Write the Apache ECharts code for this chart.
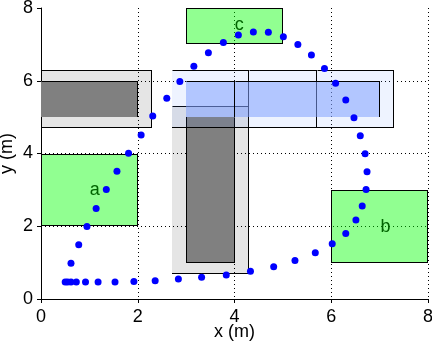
<!DOCTYPE html>
<html>
<head>
<meta charset="utf-8">
<script src="https://cdn.jsdelivr.net/npm/echarts@6.0.0/dist/echarts.min.js"></script>
<style>
  html, body { margin: 0; padding: 0; background: #fff; }
  #chart { width: 432px; height: 350px; }
</style>
</head>
<body>
<div id="chart"></div>
<script>
// axis ticks
const xTicks = [0, 2, 4, 6, 8]
const yTicks = [0, 2, 4, 6, 8]

// path points (m)
const pathX = [0.50, 0.55, 0.62, 0.73, 0.92, 1.18, 1.53, 1.92, 2.36, 2.84, 3.32, 3.83, 4.33, 4.81, 5.25, 5.67,
  6.02, 6.30, 6.51, 6.64, 6.72, 6.74, 6.70, 6.60, 6.47, 6.30, 6.09, 5.86, 5.59, 5.31, 5.01, 4.70, 4.39, 4.08,
  3.77, 3.46, 3.16, 2.87, 2.60, 2.31, 2.07, 1.81, 1.57, 1.35, 1.14, 0.95, 0.78, 0.62]
const pathY = [0.47, 0.47, 0.47, 0.47, 0.47, 0.47, 0.47, 0.48, 0.50, 0.55, 0.60, 0.66, 0.76, 0.89, 1.06, 1.27,
  1.52, 1.80, 2.17, 2.56, 3.01, 3.50, 3.99, 4.49, 4.98, 5.47, 5.93, 6.34, 6.71, 7.00, 7.21, 7.33, 7.34, 7.26,
  7.05, 6.77, 6.40, 5.98, 5.52, 5.03, 4.51, 4.01, 3.51, 3.01, 2.49, 1.99, 1.49, 0.98]

// rectangles as [x0, y0, x1, y1] in metres, and which sides carry an outline
const bufferRects = [[-0.3, 4.7, 2.3, 6.3], [2.7, 0.7, 4.3, 5.3]]
const bufferSides = ['trb', 'trb']
const obstacleRects = [[0, 5, 2, 6], [3, 1, 4, 5]]
const obstacleSides = ['tr', 'lbr']
const activeBufferRects = [[2.7, 4.7, 4.3, 6.3], [4.3, 4.7, 5.7, 6.3], [5.7, 4.7, 7.3, 6.3]]
const activeBufferSides = ['trb', 'trb', 'trb']
const activeRects = [[3, 5, 4, 6], [4, 5, 7, 6]]
const activeSides = ['tr', 'tr']
const goalRects = [[0, 2, 2, 4], [6, 1, 8, 3], [3, 7, 5, 8]]
const goalSides = ['trbl', 'trbl', 'trbl']

// goal labels
const goalNames = ['a', 'b', 'c']
const goalLabelX = [1.11, 7.12, 4.10]
const goalLabelY = [3.00, 1.98, 7.54]

const FONT = "'Liberation Sans', Arial, Helvetica, sans-serif"

function rectLayer(rects, sides, fill, z) {
  return {
    type: 'custom',
    z: z,
    silent: true,
    data: rects,
    encode: { x: [0, 2], y: [1, 3] },
    renderItem: function (params, api) {
      const cs = params.coordSys
      const a = api.coord([api.value(0), api.value(3)])
      const b = api.coord([api.value(2), api.value(1)])
      const left = Math.round(Math.max(a[0], cs.x))
      const right = Math.round(Math.min(b[0], cs.x + cs.width))
      const top = Math.round(Math.max(a[1], cs.y))
      const bottom = Math.round(Math.min(b[1], cs.y + cs.height))
      const children = [{
        type: 'rect',
        shape: { x: left, y: top, width: right - left, height: bottom - top },
        style: { fill: fill }
      }]
      const s = sides[params.dataIndex]
      const L = left + 0.5, R = right - 0.5, T = top + 0.5, B = bottom - 0.5
      const segs = []
      if (s.indexOf('t') >= 0) segs.push([L, T, R + 0.5, T])
      if (s.indexOf('r') >= 0) segs.push([R, T, R, B + 0.5])
      if (s.indexOf('b') >= 0) segs.push([L - 0.5, B, R, B])
      if (s.indexOf('l') >= 0 && a[0] >= cs.x) segs.push([L, T - 0.5, L, B])
      segs.forEach(function (g) {
        children.push({
          type: 'line',
          shape: { x1: g[0], y1: g[1], x2: g[2], y2: g[3] },
          style: { stroke: '#000', lineWidth: 1 }
        })
      })
      return { type: 'group', children: children }
    }
  }
}

const chart = echarts.init(document.getElementById('chart'), null, { renderer: 'canvas' })

chart.setOption({
  animation: false,
  backgroundColor: '#fff',
  grid: { left: 41, right: 4, top: 8, bottom: 51, containLabel: false, outerBoundsMode: 'none' },
  xAxis: {
    type: 'value',
    min: xTicks[0],
    max: xTicks[xTicks.length - 1],
    interval: 2,
    name: 'x (m)',
    nameLocation: 'middle',
    nameGap: 24,
    nameMoveOverlap: false,
    nameTextStyle: { color: '#000', fontSize: 18, fontFamily: FONT },
    axisLine: { show: true, onZero: false, lineStyle: { color: '#000', width: 1 } },
    axisTick: { show: true, inside: false, length: 4, lineStyle: { color: '#000' } },
    axisLabel: { color: '#000', fontSize: 18, fontFamily: FONT, margin: 9 },
    splitLine: {
      show: true, showMinLine: false, showMaxLine: true,
      lineStyle: { color: '#000', width: 1, type: [1, 3] }
    }
  },
  yAxis: {
    type: 'value',
    min: yTicks[0],
    max: yTicks[yTicks.length - 1],
    interval: 2,
    name: 'y (m)',
    nameLocation: 'middle',
    nameGap: 25,
    nameMoveOverlap: false,
    nameTextStyle: { color: '#000', fontSize: 18, fontFamily: FONT },
    axisLine: { show: true, onZero: false, lineStyle: { color: '#000', width: 1 } },
    axisTick: { show: true, inside: false, length: 4, lineStyle: { color: '#000' } },
    axisLabel: { color: '#000', fontSize: 18, fontFamily: FONT, margin: 8 },
    splitLine: {
      show: true, showMinLine: false, showMaxLine: false,
      lineStyle: { color: '#000', width: 1, type: [1, 3] }
    }
  },
  series: [
    rectLayer(bufferRects, bufferSides, 'rgba(0,0,0,0.1)', 1),
    rectLayer(obstacleRects, obstacleSides, '#808080', 2),
    rectLayer(activeBufferRects, activeBufferSides, 'rgba(85,135,255,0.1)', 3),
    rectLayer(activeRects, activeSides, 'rgba(130,160,255,0.55)', 4),
    rectLayer(goalRects, goalSides, 'rgba(0,255,0,0.43)', 5),
    {
      type: 'custom',
      z: 6,
      silent: true,
      data: goalNames.map(function (n, i) { return [goalLabelX[i], goalLabelY[i]] }),
      renderItem: function (params, api) {
        const p = api.coord([api.value(0), api.value(1)])
        return {
          type: 'text',
          x: p[0],
          y: p[1],
          style: {
            text: goalNames[params.dataIndex],
            fill: '#006400',
            font: '18px ' + FONT,
            align: 'center',
            verticalAlign: 'middle'
          }
        }
      }
    },
    {
      type: 'scatter',
      z: 7,
      silent: true,
      symbol: 'circle',
      symbolSize: 7,
      itemStyle: { color: '#0000ff', opacity: 1 },
      data: pathX.map(function (x, i) { return [x, pathY[i]] })
    }
  ]
})
</script>
</body>
</html>
